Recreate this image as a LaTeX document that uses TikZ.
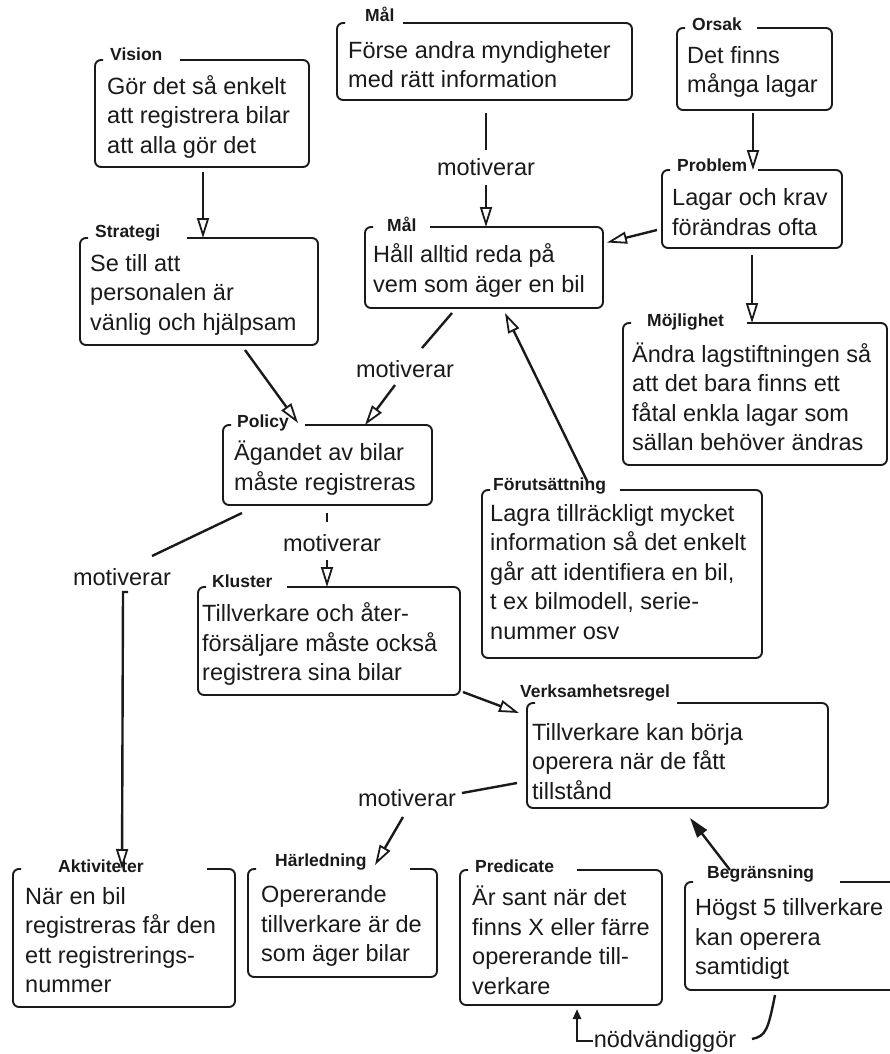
\documentclass[tikz,border=0pt]{standalone}
\usepackage{fontspec}
\setmainfont{Liberation Sans}
\usetikzlibrary{arrows.meta,calc}
\definecolor{ink}{HTML}{1A1A1A}
\tikzset{
  boxarea/.style={draw=none, inner sep=0pt, outer sep=0pt},
  boxline/.style={draw=ink, line width=1.9pt, rounded corners=6pt},
  lbl/.style={font=\fontsize{17.5}{19}\selectfont\bfseries, text=ink, inner sep=0pt},
  body/.style={font=\fontsize{23.5}{29.5}\selectfont, text=ink, align=left, inner sep=0pt},
  rel/.style={font=\fontsize{23.5}{28}\selectfont, text=ink, inner sep=1pt},
  conn/.style={draw=ink, line width=2.4pt},
  arr/.style={conn, -{Triangle[open, length=20pt, width=12pt, line width=1.8pt]}},
  farr/.style={conn, -{Triangle[length=20pt, width=12pt]}},
}
\newcommand\tpad{10}
\newcommand\tdy{-3}
% #1 name, #2 L, #3 T, #4 R, #5 B, #6 label, #7 label base point, #8 gap end x, #9 text
\newcommand\cbox[9]{%
  \node[boxarea, minimum width={(#4)-(#2)}, minimum height={(#5)-(#3)}, anchor=north west] (#1) at (#2,-#3) {};
  \draw[boxline] (#8,-#3) -- (#1.north east) -- (#1.south east) -- (#1.south west) -- (#1.north west) -- ([xshift=8pt]#1.north west);
  \node[lbl, anchor=base west] (#1-l) at (#7) {#6};
  \node[body, anchor=west] (#1-t) at ([shift={(\tpad,\tdy)}]#1.west) {#9};
}
\begin{document}
\begin{tikzpicture}[x=1pt,y=1pt]
\useasboundingbox (0,0) rectangle (890,-1054);
\clip (0,0) rectangle (890,-1054);
\fill[white] (0,0) rectangle (890,-1054);

\renewcommand\tpad{12}
\cbox{vision}{95}{60}{309}{167}{Vision}{110,-61}{180}{Gör det så enkelt\\att registrera bilar\\att alla gör det}
\renewcommand\tpad{11}
\cbox{malA}{337}{23}{632}{100}{Mål}{365,-22}{403}{Förse andra myndigheter\\med rätt information}
\renewcommand\tpad{10}
\cbox{orsak}{677}{28}{832}{110}{Orsak}{692,-31}{757}{Det finns\\många lagar}
\cbox{problem}{662}{170}{842}{248}{Problem}{677,-171}{758}{Lagar och krav\\förändras ofta}
\renewcommand\tpad{9}
\cbox{mojl}{623}{323}{887}{465}{Möjlighet}{647,-326}{747}{Ändra lagstiftningen så\\att det bara finns ett\\fåtal enkla lagar som\\sällan behöver ändras}
\renewcommand\tpad{8}
\cbox{malB}{365}{227}{603}{308}{Mål}{387,-231}{430}{Håll alltid reda på\\vem som äger en bil}
\renewcommand\tpad{10}
\cbox{strategi}{80}{238}{318}{345}{Strategi}{95,-237}{187}{Se till att\\personalen är\\vänlig och hjälpsam}
\renewcommand\tpad{11}
\cbox{policy}{223}{425}{432}{505}{Policy}{237,-427}{305}{Ägandet av bilar\\måste registreras}
\renewcommand\tpad{8}\renewcommand\tdy{2}
\cbox{forut}{482}{490}{762}{658}{Förutsättning}{493,-490}{620}{\fontsize{23.5}{26}\selectfont Lagra tillräckligt mycket\\information så det enkelt\\går att identifiera en bil,\\t ex bilmodell, serie-\\nummer osv}
\renewcommand\tpad{4}\renewcommand\tdy{-3}
\cbox{kluster}{198}{587}{460}{695}{Kluster}{212,-587}{287}{Tillverkare och åter-\\försäljare måste också\\registrera sina bilar}
\renewcommand\tpad{5}\renewcommand\tdy{-6}
\cbox{verks}{527}{703}{828}{808}{Verksamhetsregel}{520,-697}{677}{Tillverkare kan börja\\operera när de fått\\tillstånd}
\renewcommand\tpad{12}\renewcommand\tdy{-2}
\cbox{aktiv}{13}{869}{235}{1007}{Aktiviteter}{58,-872}{207}{När en bil\\registreras får den\\ett registrerings-\\nummer}
\renewcommand\tpad{13}\renewcommand\tdy{-3}
\cbox{harl}{248}{869}{437}{977}{Härledning}{275,-866}{410}{Opererande\\tillverkare är de\\som äger bilar}
\renewcommand\tpad{12}
\cbox{pred}{460}{870}{662}{1005}{Predicate}{475,-872}{577}{Är sant när det\\finns X eller färre\\opererande till-\\verkare}
\renewcommand\tpad{10}
\cbox{begr}{685}{882}{905}{990}{Begränsning}{707,-878}{840}{Högst 5 tillverkare\\kan operera\\samtidigt}

% connectors
\draw[arr] ([shift={(108,-5)}]vision.south west) -- ([xshift=123]strategi.north west);

\node[rel] (m1) at (486,-167) {motiverar};
\draw[conn] ([shift={(149,-13)}]malA.south west) -- ([yshift=17]m1.center);
\draw[arr] ([yshift=-18]m1.center) -- ([xshift=121]malB.north west);

\draw[arr] ([shift={(76,-3)}]orsak.south west) -- ([xshift=91]problem.north west);
\draw[arr] ([shift={(90,-7)}]problem.south west) -- ([xshift=129]mojl.north west);
\draw[arr] ([shift={(-5,-21)}]problem.west) -- ([shift={(4,25)}]malB.east);

\draw[arr] ([shift={(165,-5)}]strategi.south west) -- ([shift={(75,2)}]policy.north west);

\node[rel] (m2) at (405,-369) {motiverar};
\draw[conn] ([shift={(87,-5)}]malB.south west) -- ([shift={(17,21)}]m2.center);
\draw[arr] ([shift={(-10,-16)}]m2.center) -- ([xshift=142]policy.north west);

\node[rel] (m3) at (332,-543) {motiverar};
\draw[conn] ([shift={(104,-8)}]policy.south west) -- ([shift={(-5,21)}]m3.center);
\draw[arr] ([shift={(-5,-17)}]m3.center) -- ([xshift=129]kluster.north west);

\node[rel] (m4) at (122,-577) {motiverar};
\draw[conn] ([shift={(19,-8)}]policy.south west) -- ([shift={(30,21)}]m4.center);
\draw[arr] ([shift={(6,-15)}]m4.center) -- ([shift={(1,-15)}]m4.center) -- ([xshift=109]aktiv.north west);

\draw[arr] ([shift={(106,7)}]forut.north west) -- ([shift={(140,-5)}]malB.south west);

\draw[arr] ([shift={(3,3)}]kluster.south east) -- ([shift={(-8,-10)}]verks.north west);

\node[rel] (m5) at (407,-798) {motiverar};
\draw[conn] ([shift={(-10,25)}]verks.south west) -- ([shift={(55,5)}]m5.center);
\draw[arr] ([shift={(-4,-19)}]m5.center) -- ([shift={(127,4)}]harl.north west);

\draw[farr] ([shift={(45,12)}]begr.north west) -- ([shift={(163,-10)}]verks.south west);

\node[rel] (m6) at (665,-1041) {nödvändiggör};
\draw[conn] ([shift={(90,-5)}]begr.south west) .. controls ([shift={(83,-40)}]begr.south west) and ([shift={(81,-46)}]begr.south west) .. ([shift={(67,-49)}]begr.south west);
\draw[conn, -{Triangle[length=10pt, width=8pt]}, shorten >=4pt] (m6.west) -| ([xshift=117]pred.south west);
\end{tikzpicture}
\end{document}
